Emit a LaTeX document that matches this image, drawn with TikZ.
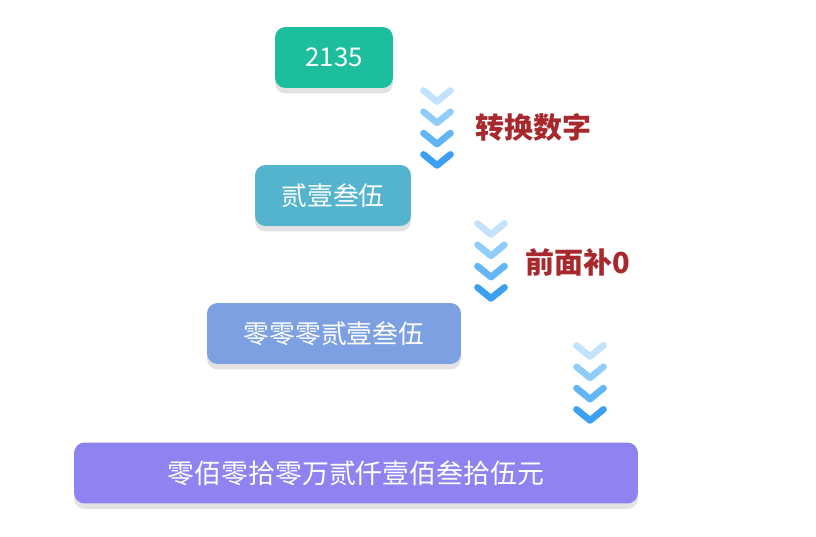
\documentclass[tikz,border=0pt]{standalone}
\usepackage{fontspec}
\setmainfont{Noto Sans CJK SC}
\usetikzlibrary{positioning,shadows}
\definecolor{teal}{HTML}{1DBE9D}
\definecolor{sky}{HTML}{54B4CE}
\definecolor{cornf}{HTML}{7DA0E2}
\definecolor{lav}{HTML}{8F82F1}
\definecolor{rust}{HTML}{A8292D}
\definecolor{chevA}{HTML}{C2E2FD}
\definecolor{chevB}{HTML}{90CDFA}
\definecolor{chevC}{HTML}{62B6F6}
\definecolor{chevD}{HTML}{3CA0F2}
\definecolor{shade}{HTML}{E2E2E4}

\begin{document}
\begin{tikzpicture}[x=0.02cm, y=-0.02cm,
    stage/.style={text=white, rounded corners=6pt, inner sep=0pt, minimum height=1.22cm,
      font=\fontsize{14.7}{17}\selectfont,
      general shadow={fill=shade, shadow yshift=-0.11cm}},
    note/.style={text=rust, font=\fontsize{16.5}{19}\selectfont\bfseries, anchor=west, inner sep=0pt},
    chev/.style={line width=3.8pt, line cap=round, line join=round}]
  \useasboundingbox (0,0) rectangle (816,537);
  % stages
  \node[stage, fill=teal, minimum width=2.36cm] (num) at (334,57.5) {2135};
  \node[stage, fill=sky, minimum width=3.12cm] (cap) at (333,195.5) {贰壹叁伍};
  \node[stage, fill=cornf, minimum width=5.08cm] (pad) at (334,333.5) {零零零贰壹叁伍};
  \node[stage, fill=lav, minimum width=11.28cm, font=\fontsize{15.3}{18}\selectfont] (out) at (356,473) {零佰零拾零万贰仟壹佰叁拾伍元};
  % chevron arrows
  \foreach \cx/\cy in {437/96, 491/229, 590/351}
    \foreach \c [count=\i from 0] in {chevA,chevB,chevC,chevD}
      \draw[chev, draw=\c] (\cx-13.5,\cy+21.3*\i-5.5) -- (\cx,\cy+21.3*\i+5.5) -- (\cx+13.5,\cy+21.3*\i-5.5);
  \node[note] (step1) at (475,127) {转换数字};
  \node[note] (step2) at (525,262) {前面补0};
\end{tikzpicture}
\end{document}
